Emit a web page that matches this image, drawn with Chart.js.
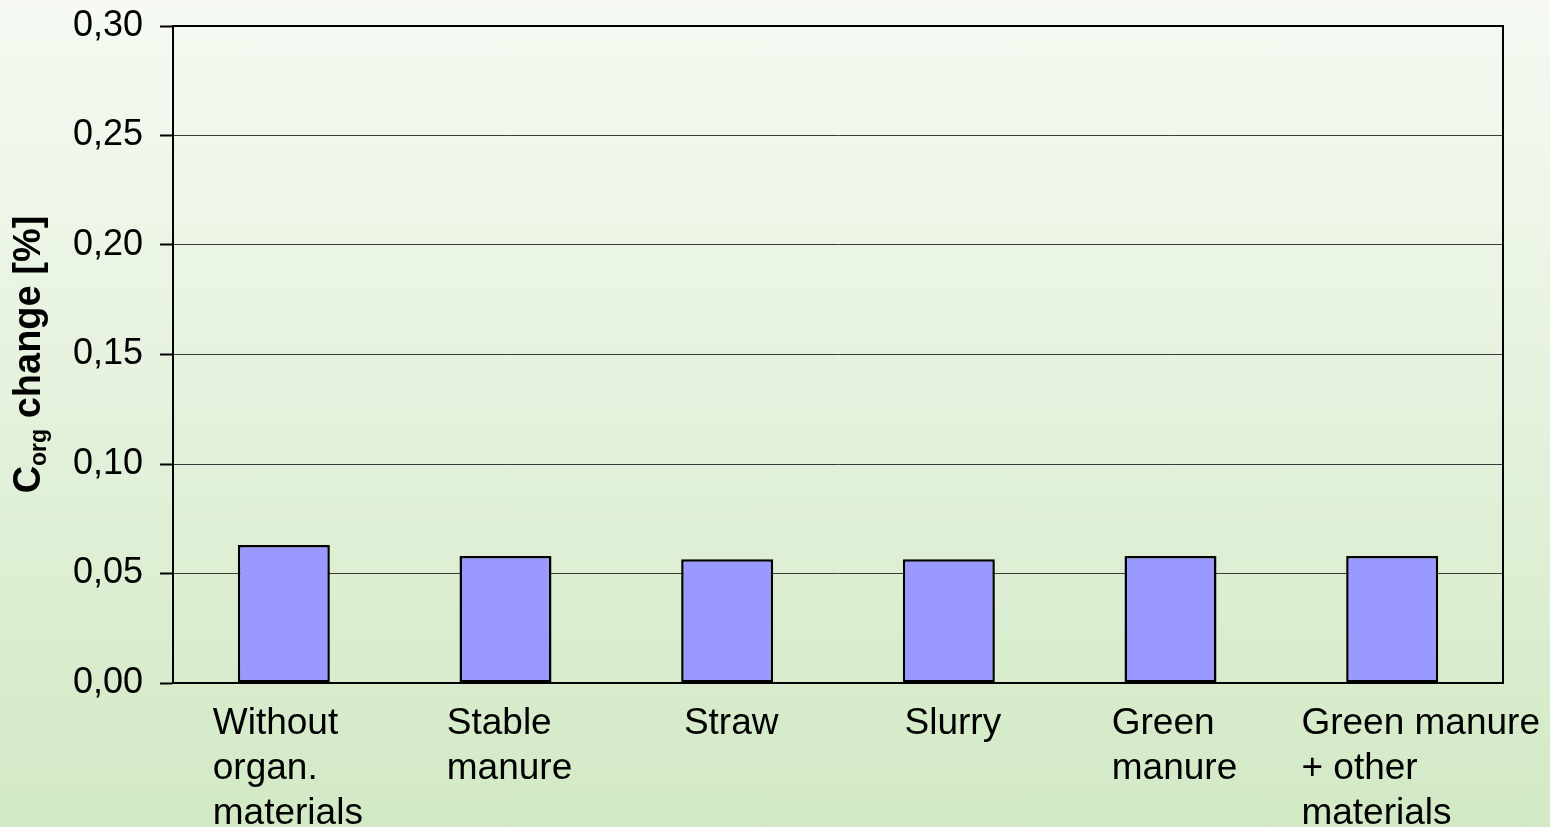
<!DOCTYPE html>
<html>
<head>
  <meta charset="utf-8" />
  <title>Corg change</title>
  <script src="https://cdn.jsdelivr.net/npm/chart.js"></script>
  <style>
    html, body { margin: 0; padding: 0; }
    body {
      width: 1550px; height: 827px; overflow: hidden;
      background: linear-gradient(to bottom, #f6faf3 0%, #d2e9c5 100%);
    }
    #wrap { position: relative; width: 1550px; height: 827px; }
  </style>
</head>
<body>
  <div id="wrap"><canvas id="chart"></canvas></div>

  <script>
    // categories (each entry is the wrapped lines of the label)
    const categories = [
      ['Without', 'organ.', 'materials'],
      ['Stable', 'manure'],
      ['Straw'],
      ['Slurry'],
      ['Green', 'manure'],
      ['Green manure', '+ other', 'materials']
    ];
    // C_org change in %
    const corgChange = [0.063, 0.058, 0.0565, 0.0565, 0.058, 0.058];
    const yTicks = [0, 0.05, 0.10, 0.15, 0.20, 0.25, 0.30];

    const FONT = 'Arial, "Liberation Sans", sans-serif';

    // draws the frame, the y title with subscript and the left-aligned wrapped x labels
    const decorations = {
      id: 'decorations',
      afterDraw(chart) {
        const ctx = chart.ctx;
        const area = chart.chartArea;
        const x = chart.scales.x;

        ctx.save();
        // frame on top and right
        ctx.strokeStyle = '#000';
        ctx.lineWidth = 2;
        ctx.strokeRect(area.left, area.top, area.right - area.left, area.bottom - area.top);

        // y title: C_org change [%]
        ctx.translate(40, (area.top + area.bottom) / 2);
        ctx.rotate(-Math.PI / 2);
        ctx.fillStyle = '#000';
        ctx.textBaseline = 'alphabetic';
        const big = 'bold 38px ' + FONT;
        const small = 'bold 23px ' + FONT;
        ctx.font = big;
        const wC = ctx.measureText('C').width;
        const wRest = ctx.measureText(' change [%]').width;
        ctx.font = small;
        const wSub = ctx.measureText('org').width;
        let px = -(wC + wSub + wRest) / 2;
        ctx.font = big;
        ctx.textAlign = 'left';
        ctx.fillText('C', px, 0);
        px += wC;
        ctx.font = small;
        ctx.fillText('org', px, 6);
        px += wSub;
        ctx.font = big;
        ctx.fillText(' change [%]', px, 0);
        ctx.restore();

        // x labels: block centred under the bar, lines left-aligned;
        // a block that runs past the plot is pushed to the page edge
        ctx.save();
        ctx.font = '37px ' + FONT;
        ctx.fillStyle = '#000';
        ctx.textAlign = 'left';
        ctx.textBaseline = 'alphabetic';
        categories.forEach((lines, i) => {
          const cx = x.getPixelForValue(i);
          const w = Math.max(...lines.map(l => ctx.measureText(l).width));
          let left = cx - w / 2 + 4;
          if (cx + w / 2 > area.right) left = chart.width - 10 - w;
          lines.forEach((l, j) => ctx.fillText(l, left, 734 + j * 45));
        });
        ctx.restore();
      }
    };

    new Chart(document.getElementById('chart'), {
      type: 'bar',
      data: {
        labels: categories.map(c => c.join(' ')),
        datasets: [{
          data: corgChange,
          backgroundColor: '#9999ff',
          borderColor: '#000',
          borderWidth: 2.5,
          borderSkipped: false,
          categoryPercentage: 1,
          barPercentage: 0.415
        }]
      },
      options: {
        responsive: true,
        maintainAspectRatio: false,
        animation: false,
        layout: { padding: { left: 0, top: 25, right: 47, bottom: 0 } },
        plugins: { legend: { display: false }, tooltip: { enabled: false } },
        scales: {
          x: {
            offset: true,
            ticks: { display: false },
            grid: { display: false },
            border: { display: true, color: '#000', width: 2 },
            afterFit(scale) { scale.height = 144; }
          },
          y: {
            min: 0,
            max: 0.30,
            afterBuildTicks(scale) { scale.ticks = yTicks.map(v => ({ value: v })); },
            ticks: {
              color: '#000',
              font: { family: FONT, size: 36, lineHeight: 0.5 },
              padding: 17,
              callback: v => v.toFixed(2).replace('.', ',')
            },
            grid: {
              color: '#3a3a3a',
              lineWidth: 1,
              tickLength: 13,
              tickColor: '#000',
              tickWidth: 2
            },
            border: { display: true, color: '#000', width: 2 },
            afterFit(scale) { scale.width = 173; }
          }
        }
      },
      plugins: [decorations]
    });
  </script>
</body>
</html>
